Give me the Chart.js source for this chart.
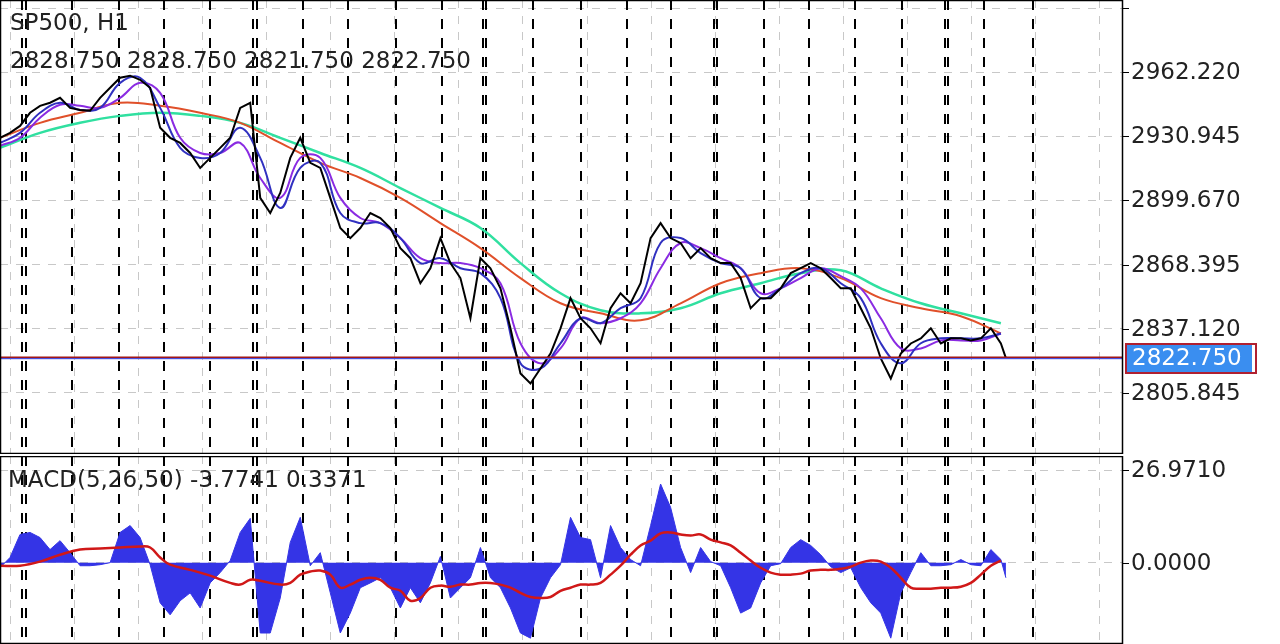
<!DOCTYPE html>
<html><head><meta charset="utf-8">
<script src="https://cdn.jsdelivr.net/npm/chart.js@4"></script>
<style>
html,body{margin:0;padding:0;background:#fff;width:1280px;height:644px;overflow:hidden}
#w1{position:absolute;left:0;top:0;width:1280px;height:454px}
#w2{position:absolute;left:0;top:456px;width:1280px;height:188px}
</style></head><body>
<div id="w1"><canvas id="c1"></canvas></div>
<div id="w2"><canvas id="c2"></canvas></div>
<script>
const priceIdx = [0,1,2,3,4,5,6,7,8,9,10,11,12,13,14,15,16,17,18,19,20,21,22,23,24,25,26,27,28,29,30,31,32,33,34,35,36,37,38,39,40,41,42,43,44,45,46,47,48,49,50,51,52,53,54,55,56,57,58,59,60,61,62,63,64,65,66,67,68,69,70,71,72,73,74,75,76,77,78,79,80,81,82,83,84,85,86,87,88,89,90,91,92,93,94,95,96,97,98,99,100,100.5];
const price = [2930.2,2932.6,2936.0,2942.4,2945.8,2947.3,2949.7,2944.8,2943.8,2943.4,2949.7,2954.6,2959.5,2960.5,2958.5,2954.6,2935.1,2930.2,2927.7,2922.8,2915.5,2920.4,2925.3,2930.2,2944.8,2947.3,2900.9,2893.5,2903.3,2920.4,2930.2,2918.0,2915.5,2900.9,2886.2,2881.3,2886.2,2893.5,2891.1,2886.2,2876.4,2871.5,2859.3,2866.6,2881.3,2869.1,2861.8,2842.2,2871.5,2866.6,2856.8,2837.3,2815.3,2810.4,2817.7,2825.0,2837.3,2852.0,2842.2,2837.3,2830.0,2847.1,2854.4,2849.5,2859.3,2881.3,2888.6,2881.3,2878.9,2871.5,2876.4,2871.5,2869.1,2869.1,2861.8,2847.1,2852.0,2852.0,2856.8,2864.2,2866.6,2869.1,2866.6,2861.8,2856.8,2856.8,2847.1,2837.3,2822.6,2812.8,2825.0,2829.9,2832.4,2837.3,2829.9,2832.4,2832.4,2831.4,2832.4,2837.3,2829.9,2822.75];
const maIdx = [0,2,4,6,8,10,12,14,16,18,20,22,24,26,28,30,32,34,36,38,40,42,44,46,48,50,52,54,56,58,60,62,64,66,68,70,72,74,76,78,80,82,84,86,88,90,92,94,96,98,100];
const maFast = [2927.7,2932.6,2942.4,2947.3,2943.8,2944.8,2957.0,2959.5,2944.8,2925.3,2920.4,2922.8,2935.1,2920.4,2896.0,2915.5,2918.0,2893.5,2888.6,2888.6,2881.3,2869.1,2871.5,2866.6,2864.2,2852.0,2820.2,2817.7,2830.0,2842.2,2839.8,2847.1,2852.0,2878.9,2881.3,2874.0,2869.1,2866.6,2852.0,2856.8,2864.2,2866.6,2859.3,2852.0,2830.0,2820.2,2830.0,2832.4,2832.4,2832.4,2834.8];
const maMid = [2926.3,2930.2,2940.0,2946.3,2945.8,2944.8,2949.7,2957.0,2952.1,2930.2,2922.8,2922.8,2927.7,2910.6,2900.9,2920.4,2920.4,2900.9,2891.1,2888.6,2881.3,2871.5,2869.1,2869.1,2866.6,2859.3,2830.0,2820.2,2827.5,2842.2,2839.8,2842.2,2849.5,2866.6,2878.9,2876.4,2871.5,2866.6,2854.4,2856.8,2861.8,2866.6,2862.7,2856.8,2842.2,2827.5,2827.5,2831.4,2831.4,2831.4,2834.8];
const slowIdx = [0,4,8,12,16,20,24,28,32,36,40,44,48,52,56,60,64,68,72,76,80,84,88,92,96,100];
const maRed = [2930.2,2937.5,2942.4,2947.3,2945.8,2942.4,2937.5,2927.7,2918.0,2910.6,2900.9,2888.6,2876.4,2861.8,2849.5,2844.6,2841.2,2849.5,2859.3,2864.2,2866.6,2861.8,2852.0,2847.1,2843.2,2834.8];
const maGreen = [2925.3,2932.6,2937.5,2940.9,2942.4,2940.9,2937.5,2930.2,2922.8,2915.5,2905.7,2896.0,2886.2,2869.1,2854.4,2846.1,2844.6,2847.1,2854.4,2859.3,2864.2,2865.6,2856.8,2849.5,2844.6,2839.8];
const lastPrice = 2822.75;
const priceTicks = [2805.845,2837.120,2868.395,2899.670,2930.945,2962.220,2993.495];
const priceTickLabels = ['2805.845','2837.120','2868.395','2899.670','2930.945','2962.220',''];
const daySep = [2.2,2.6,7.2,11.9,16.4,21.0,25.3,25.7,30.3,34.8,39.6,44.2,48.3,48.6,53.3,58.0,62.6,67.0,71.3,71.6,76.3,80.8,85.4,90.1,94.4,94.7,98.3,103.2];
const grayGrid = [1.0,7.4,13.8,20.2,26.6,33.0,39.4,45.8,52.2,58.6,65.0,71.4,77.8,84.2,90.6,97.0,103.4,109.8];
const histIdx = [0,1,2,3,4,5,6,7,8,9,10,11,12,13,14,15,16,17,18,19,20,21,22,23,24,25,26,27,28,29,30,31,32,33,34,35,36,37,38,39,40,41,42,43,44,45,46,47,48,49,50,51,52,53,54,55,56,57,58,59,60,61,62,63,64,65,66,67,68,69,70,71,72,73,74,75,76,77,78,79,80,81,82,83,84,85,86,87,88,89,90,91,92,93,94,95,96,97,98,99,100,100.5];
const hist = [-1.5,1.5,8.2,8.8,7.3,3.8,6.4,2.9,-0.9,-0.9,-0.6,0,8.8,10.8,7.3,-0.6,-11.7,-15.2,-11.1,-8.8,-13.2,-5.9,-2.9,0.6,8.8,12.9,-20.5,-20.5,-10.3,5.9,13.2,-0.9,2.9,-8.8,-20.5,-14.7,-7.3,-5.9,-4.4,-7.3,-13.2,-7.3,-11.7,-5.9,1.8,-10.3,-7.3,-4.4,4.4,-4.4,-7.3,-13.2,-20.5,-22.0,-10.3,-4.4,-0.6,13.2,7.3,6.7,-4.4,10.8,4.4,0.9,-0.9,10.8,22.9,16.1,4.4,-2.9,4.4,0.3,-0.9,-7.3,-14.7,-13.2,-5.9,-0.9,-0.3,4.4,6.7,5.0,2.3,-1.2,-2.9,-1.5,-7.3,-11.7,-14.7,-22.0,-8.8,-2.9,2.9,-0.9,-0.9,-0.6,0.9,-0.6,-0.9,3.8,0.9,-4.4];
const sigIdx = [0,2,4,6,8,10,12,14,15,16,17,19,21,23,24,25,26,28,29,30,31,32,33,34,35,36,37,38,39,40,41,42,43,44,45,46,47,48,49,50,51,52,53,54,55,56,57,58,59,60,61,62,63,64,65,66,67,68,69,70,71,72,73,74,75,76,77,78,79,80,81,82,83,84,85,86,87,88,89,90,91,92,93,94,95,96,97,98,99,100];
const signal = [-0.9,-0.9,0.3,2.3,3.8,4.1,4.4,4.7,4.4,1.5,-0.6,-2.1,-3.8,-5.9,-6.4,-5.0,-5.3,-6.4,-5.9,-3.5,-2.6,-2.3,-3.5,-7.3,-6.4,-5.0,-4.4,-5.0,-7.3,-8.2,-11.1,-10.3,-7.3,-6.7,-7.0,-6.4,-6.4,-5.9,-5.9,-6.4,-7.3,-8.8,-10.0,-10.3,-10.0,-8.2,-7.3,-6.4,-6.4,-5.9,-3.5,-0.9,2.3,5.0,6.4,8.5,8.8,8.2,7.9,8.2,6.7,5.9,5.0,2.9,0.6,-1.5,-2.9,-3.5,-3.5,-3.2,-2.3,-2.1,-2.1,-1.8,-1.2,0,0.6,0.3,-1.5,-4.4,-7.3,-7.6,-7.6,-7.3,-7.3,-7.0,-5.9,-3.5,-0.9,0.6];
const macdTicks = [0, 26.971];
const macdTickLabels = ['0.0000','26.9710'];

const FONT = '"DejaVu Sans", sans-serif';
const FSIZE = 23;
const xy = (xs, ys) => xs.map((x,i)=>({x:x, y:ys[i]}));

function vlines(chart){
  const {ctx, chartArea:a, scales:{x}} = chart;
  ctx.save();
  ctx.beginPath(); ctx.rect(a.left,a.top,a.right-a.left,a.bottom-a.top); ctx.clip();
  ctx.lineWidth = 1; ctx.strokeStyle = '#c8c8c8'; ctx.setLineDash([8,8]);
  grayGrid.forEach(v=>{const p=Math.round(x.getPixelForValue(v))+0.5;ctx.beginPath();ctx.moveTo(p,a.top);ctx.lineTo(p,a.bottom);ctx.stroke();});
  ctx.lineWidth = 2; ctx.strokeStyle = '#000'; ctx.setLineDash([10,9]);
  daySep.forEach(v=>{const p=Math.round(x.getPixelForValue(v));ctx.beginPath();ctx.moveTo(p,a.top);ctx.lineTo(p,a.bottom);ctx.stroke();});
  ctx.restore();
}
function axisLabels(chart, ticks, labels){
  const {ctx, chartArea:a, scales:{y}} = chart;
  ctx.save();
  ctx.fillStyle='#222'; ctx.strokeStyle='#000'; ctx.lineWidth=1;
  ctx.font = FSIZE+'px '+FONT; ctx.textBaseline='middle';
  ticks.forEach((v,i)=>{
    const p = Math.round(y.getPixelForValue(v))+0.5;
    if(p<a.top||p>a.bottom) return;
    ctx.beginPath(); ctx.moveTo(a.right,p); ctx.lineTo(a.right+6,p); ctx.stroke();
    ctx.fillText(labels[i], a.right+8, p+1);
  });
  ctx.restore();
}
function frame(chart){
  const {ctx, chartArea:a} = chart;
  ctx.save(); ctx.strokeStyle='#000'; ctx.lineWidth=1.5; ctx.setLineDash([]);
  ctx.strokeRect(a.left+0.5,a.top+0.5,a.right-a.left-1,a.bottom-a.top-1); ctx.restore();
}
const xScale = {type:'linear',min:0,max:112.2,display:false};
const yCommon = {position:'right',
  afterFit:s=>{s.width=157;},
  grid:{color:'#c8c8c8',drawTicks:false},
  border:{display:false,dash:[8,8]},
  ticks:{display:false}};

new Chart(document.getElementById('c1'), {
  type:'line',
  data:{datasets:[
    {data:xy(priceIdx,price),borderColor:'#000',borderWidth:2,pointRadius:0,tension:0},
    {data:xy(maIdx,maFast),borderColor:'#3030c0',borderWidth:2,pointRadius:0,tension:0.4},
    {data:xy(maIdx,maMid),borderColor:'#8a2be2',borderWidth:2,pointRadius:0,tension:0.4},
    {data:xy(slowIdx,maRed),borderColor:'#e0502a',borderWidth:2,pointRadius:0,tension:0.4},
    {data:xy(slowIdx,maGreen),borderColor:'#30e0a0',borderWidth:2.5,pointRadius:0,tension:0.4}
  ]},
  options:{
    animation:false,responsive:true,maintainAspectRatio:false,
    layout:{padding:0},
    plugins:{legend:{display:false},tooltip:{enabled:false}},
    scales:{
      x:xScale,
      y:Object.assign({},yCommon,{min:2776.0,max:2997.41,
        afterBuildTicks:s=>{s.ticks=priceTicks.map(v=>({value:v}));}})
    }
  },
  plugins:[{id:'p1',
    beforeDatasetsDraw:c=>{vlines(c);},
    afterDatasetsDraw:c=>{
      const {ctx,chartArea:a,scales:{y}}=c;
      axisLabels(c, priceTicks, priceTickLabels);
      const py=Math.round(y.getPixelForValue(lastPrice));
      ctx.save();
      ctx.fillStyle='#a01818'; ctx.fillRect(a.left,py-1.5,a.right-a.left,1.5);
      ctx.fillStyle='#4a50e0'; ctx.fillRect(a.left,py,a.right-a.left,1.2);
      ctx.fillStyle='#3a8ef0'; ctx.fillRect(a.right+3,py-14,126,28);
      ctx.strokeStyle='#b02030'; ctx.lineWidth=2; ctx.strokeRect(a.right+3,py-14,130,29);
      ctx.fillStyle='#fff'; ctx.font=FSIZE+'px '+FONT; ctx.textBaseline='middle';
      ctx.fillText('2822.750',a.right+9,py+1);
      ctx.fillStyle='#222'; ctx.textBaseline='alphabetic';
      ctx.fillText('SP500, H1',10,30);
      ctx.fillText('2828.750 2828.750 2821.750 2822.750',10,68);
      ctx.restore();
      frame(c);
    }}]
});

new Chart(document.getElementById('c2'), {
  type:'line',
  data:{datasets:[
    {data:xy(sigIdx,signal),borderColor:'#d01818',borderWidth:2.5,pointRadius:0,tension:0.4},
    {data:xy(histIdx,hist),borderColor:'#3434e6',backgroundColor:'#3434e6',borderWidth:1,pointRadius:0,tension:0,fill:'origin'}
  ]},
  options:{
    animation:false,responsive:true,maintainAspectRatio:false,
    layout:{padding:0},
    plugins:{legend:{display:false},tooltip:{enabled:false}},
    scales:{
      x:xScale,
      y:Object.assign({},yCommon,{min:-23.7,max:31.06,
        afterBuildTicks:s=>{s.ticks=macdTicks.map(v=>({value:v}));}})
    }
  },
  plugins:[{id:'p2',
    beforeDatasetsDraw:c=>{vlines(c);},
    afterDatasetsDraw:c=>{
      const {ctx}=c;
      axisLabels(c, macdTicks, macdTickLabels);
      ctx.save(); ctx.fillStyle='#222'; ctx.font=FSIZE+'px '+FONT;
      ctx.fillText('MACD(5,26,50) -3.7741 0.3371',8,31);
      ctx.restore(); frame(c);
    }}]
});
</script></body></html>
